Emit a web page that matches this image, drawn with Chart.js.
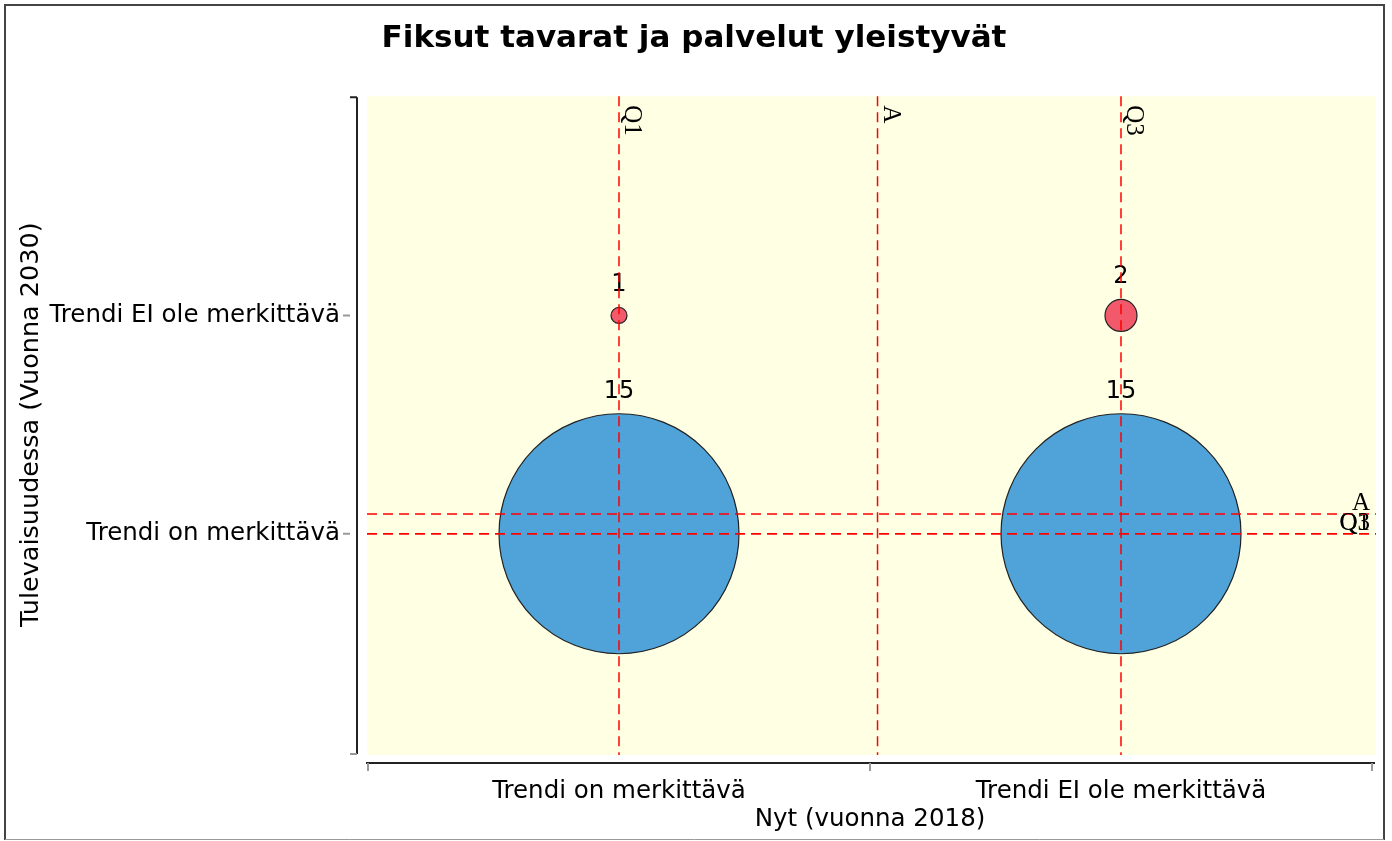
<!DOCTYPE html>
<html>
<head>
<meta charset="utf-8">
<script src="https://cdn.jsdelivr.net/npm/chart.js@4"></script>
<style>
  html, body { margin: 0; padding: 0; background: #fff; }
  #wrap { width: 1392px; height: 841px; }
</style>
</head>
<body>
<div id="wrap"><canvas id="BubbleChart"></canvas></div>
<script>
// categories on both axes
const xCategories = ['Trendi on merkittävä', 'Trendi EI ole merkittävä'];
const yCategories = ['Trendi on merkittävä', 'Trendi EI ole merkittävä'];

// red series (1 = on, 2 = EI)
const redX = [1, 2];
const redY = [2, 2];
const redCounts = [1, 2];

// blue series
const blueX = [1, 2];
const blueY = [1, 1];
const blueCounts = [15, 15];

// reference lines (quartiles and mean)
const refNamesX = ['Q1', 'A', 'Q3'];
const refValuesX = [1, 1.515, 2];
const refNamesY = ['Q1', 'A', 'Q3'];
const refValuesY = [1, 1.09, 1];

const fontSans = 'DejaVu Sans';

function toPoints(xs, ys, counts) {
  return xs.map(function(x, i) {
    return { x: x, y: ys[i], r: counts[i] * 8, count: counts[i] };
  });
}

function noPad(scale) {
  scale.paddingLeft = 0;
  scale.paddingRight = 0;
  scale.paddingTop = 0;
  scale.paddingBottom = 0;
}

const Bdata = {
  datasets: [
    {
      label: 'EI',
      data: toPoints(redX, redY, redCounts),
      backgroundColor: '#f25a6c',
      borderColor: '#222',
      borderWidth: 1.2
    },
    {
      label: 'on',
      data: toPoints(blueX, blueY, blueCounts),
      backgroundColor: '#4fa3d8',
      borderColor: '#222',
      borderWidth: 1.2
    }
  ]
};

// frame, plot background and axis lines
const framePlugin = {
  id: 'frame',
  beforeDraw: function(chart) {
    const ctx = chart.ctx;
    const a = chart.chartArea;
    const xs = chart.scales.x, ys = chart.scales.y;
    ctx.save();
    ctx.fillStyle = '#ffffe4';
    ctx.fillRect(a.left - 1, a.top - 1, a.right - a.left + 5, a.bottom - a.top + 4);

    // outer frame
    ctx.strokeStyle = '#444';
    ctx.lineWidth = 2;
    ctx.beginPath();
    ctx.moveTo(5, 840); ctx.lineTo(5, 5); ctx.lineTo(1384, 5); ctx.lineTo(1384, 840);
    ctx.stroke();
    ctx.strokeStyle = '#999';
    ctx.lineWidth = 1;
    ctx.beginPath();
    ctx.moveTo(5, 839.5); ctx.lineTo(1384, 839.5);
    ctx.stroke();

    // y axis
    const yTop = ys.getPixelForValue(3), yBot = ys.getPixelForValue(0);
    const yAxisX = a.left - 11;
    ctx.strokeStyle = '#222';
    ctx.lineWidth = 2;
    ctx.beginPath();
    ctx.moveTo(yAxisX, yTop); ctx.lineTo(yAxisX, yBot + 2);
    ctx.moveTo(yAxisX - 7, yTop); ctx.lineTo(yAxisX, yTop);
    ctx.stroke();
    ctx.strokeStyle = '#999';
    ctx.beginPath();
    ctx.moveTo(yAxisX - 7, yBot + 2); ctx.lineTo(yAxisX, yBot + 2);
    [1, 2].forEach(function(v) {
      const p = ys.getPixelForValue(v);
      ctx.moveTo(yAxisX - 14, p); ctx.lineTo(yAxisX - 7, p);
    });
    ctx.stroke();

    // x axis
    const xAxisY = a.bottom + 11;
    ctx.strokeStyle = '#222';
    ctx.beginPath();
    ctx.moveTo(xs.getPixelForValue(0.5) - 2, xAxisY); ctx.lineTo(xs.getPixelForValue(2.5) + 3, xAxisY);
    ctx.stroke();
    ctx.strokeStyle = '#999';
    ctx.beginPath();
    [0.5, 1.5, 2.5].forEach(function(v) {
      const p = xs.getPixelForValue(v);
      ctx.moveTo(p, xAxisY); ctx.lineTo(p, xAxisY + 8);
    });
    ctx.stroke();
    ctx.restore();
  }
};

// counts above bubbles, dashed reference lines
const markPlugin = {
  id: 'marks',
  afterDatasetsDraw: function(chart) {
    const ctx = chart.ctx;
    const a = chart.chartArea;
    const xs = chart.scales.x, ys = chart.scales.y;
    ctx.save();

    ctx.fillStyle = '#000';
    ctx.font = '24px "' + fontSans + '"';
    ctx.textAlign = 'center';
    ctx.textBaseline = 'alphabetic';
    chart.data.datasets.forEach(function(ds, di) {
      chart.getDatasetMeta(di).data.forEach(function(el, i) {
        const r = ds.data[i].r;
        ctx.fillText(String(ds.data[i].count), el.x, el.y - r - 16);
      });
    });

    ctx.strokeStyle = '#ff0000';
    ctx.lineWidth = 1.5;
    ctx.setLineDash([10, 6]);
    ctx.font = '25px "Liberation Serif"';
    refValuesX.forEach(function(v, i) {
      const p = xs.getPixelForValue(v);
      ctx.beginPath();
      ctx.moveTo(p, a.top - 1); ctx.lineTo(p, a.bottom + 3);
      ctx.stroke();
      ctx.save();
      ctx.translate(p + 6, a.top + 8);
      ctx.rotate(Math.PI / 2);
      ctx.textAlign = 'left';
      ctx.fillText(refNamesX[i], 0, 0);
      ctx.restore();
    });
    refValuesY.forEach(function(v, i) {
      const p = ys.getPixelForValue(v);
      ctx.beginPath();
      ctx.moveTo(a.left - 1, p); ctx.lineTo(a.right + 4, p);
      ctx.stroke();
      ctx.textAlign = 'right';
      ctx.fillText(refNamesY[i], a.right - 2, p - 4);
    });
    ctx.restore();
  }
};

const Bconfig = {
  type: 'bubble',
  data: Bdata,
  options: {
    responsive: true,
    maintainAspectRatio: false,
    animation: false,
    events: [],
    layout: {
      autoPadding: false,
      padding: { left: 16, right: 20, top: 0, bottom: 0 }
    },
    plugins: {
      legend: { display: false },
      tooltip: { enabled: false },
      title: {
        display: true,
        text: 'Fiksut tavarat ja palvelut yleistyvät',
        color: '#000',
        font: { family: fontSans, size: 31, weight: 'bold' },
        padding: { top: 20, bottom: 40 }
      }
    },
    scales: {
      x: {
        type: 'linear',
        min: 0.5,
        max: 2.5,
        grid: { display: false, drawTicks: false },
        border: { display: false },
        afterBuildTicks: function(scale) {
          scale.ticks = [{ value: 1 }, { value: 2 }];
        },
        afterFit: function(scale) { scale.height = 89; noPad(scale); },
        ticks: {
          autoSkip: false,
          maxRotation: 0,
          padding: 25,
          color: '#000',
          font: { family: fontSans, size: 24.5 },
          callback: function(v) { return xCategories[v - 1] || ''; }
        },
        title: {
          display: true,
          text: 'Nyt (vuonna 2018)',
          color: '#000',
          font: { family: fontSans, size: 24.5 },
          padding: { top: 0, bottom: 7 }
        }
      },
      y: {
        type: 'linear',
        min: 0,
        max: 3,
        grid: { display: false, drawTicks: false },
        border: { display: false },
        afterBuildTicks: function(scale) {
          scale.ticks = [{ value: 1 }, { value: 2 }];
        },
        afterFit: function(scale) { scale.width = 352; noPad(scale); },
        ticks: {
          autoSkip: false,
          padding: 28,
          color: '#000',
          font: { family: fontSans, size: 24.5 },
          callback: function(v) { return yCategories[v - 1] || ''; }
        },
        title: {
          display: true,
          text: 'Tulevaisuudessa (Vuonna 2030)',
          color: '#000',
          font: { family: fontSans, size: 25.5 },
          padding: { top: 0, bottom: 0 }
        }
      }
    }
  },
  plugins: [framePlugin, markPlugin]
};

var BubbleChart = new Chart(
  document.getElementById('BubbleChart'),
  Bconfig
);
</script>
</body>
</html>
